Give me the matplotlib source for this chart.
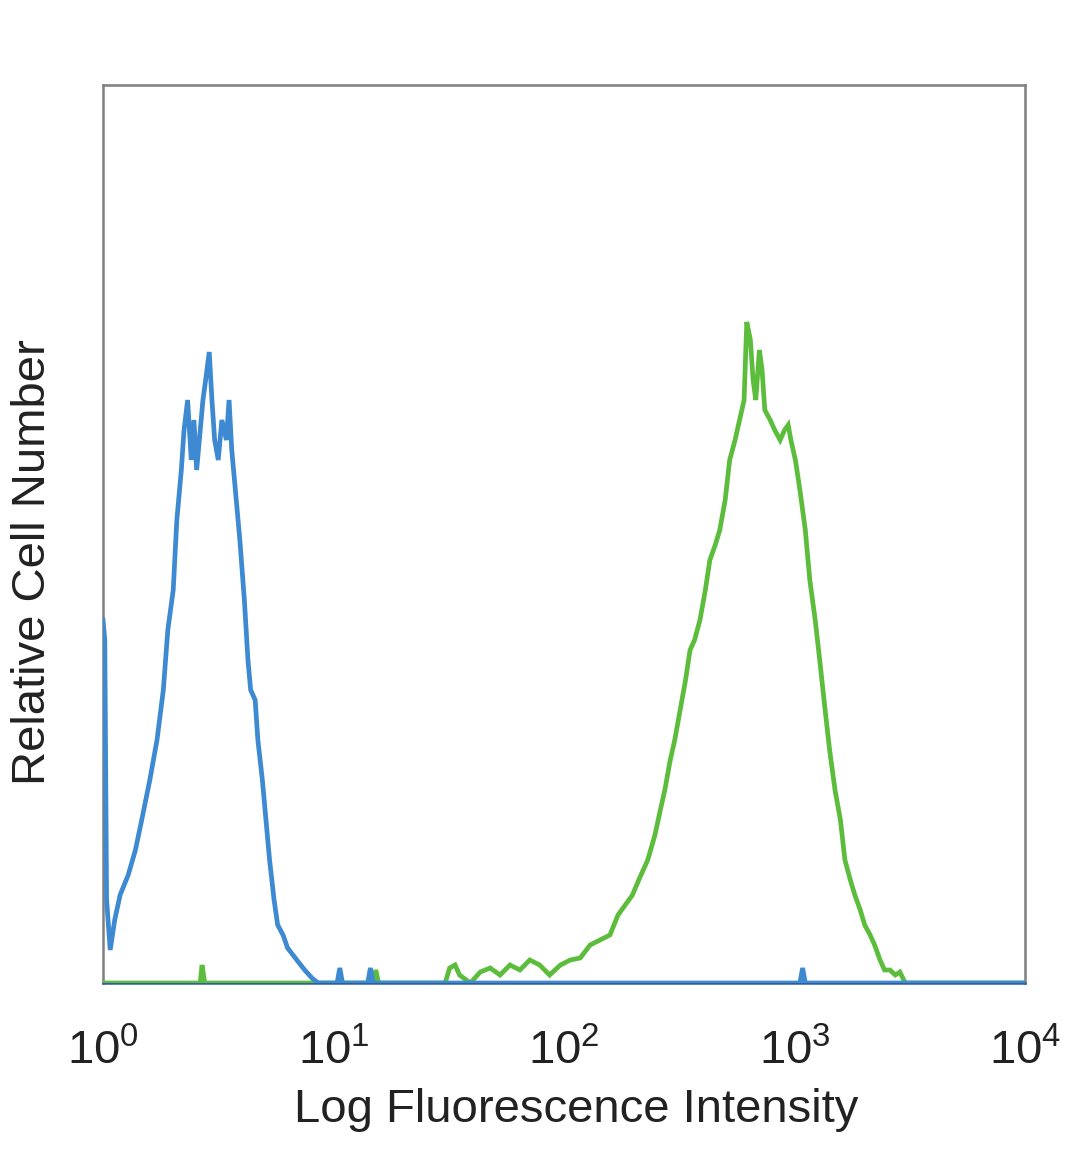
import numpy as np
import matplotlib
matplotlib.use("Agg")
import matplotlib.pyplot as plt
from matplotlib.ticker import FixedLocator, FixedFormatter

# ---- data: channel (0-1024 over 4 decades) and relative cell counts ----
blue_channel = [0, 2, 4, 8, 13, 19, 28, 36, 43, 52, 60, 67, 72, 78, 82, 87, 90, 94,
                98, 101, 104, 108, 111, 114, 118, 121, 124, 128, 132, 137, 140, 143,
                148, 152, 157, 161, 164, 169, 172, 177, 181, 185, 190, 194, 200, 205,
                211, 217, 224, 232, 239, 260, 263, 266, 294, 297, 300, 774, 777, 780, 1023]
blue_count = [363, 343, 83, 33, 63, 88, 108, 133, 163, 203, 243, 293, 353, 393, 463, 513, 553, 583,
              523, 563, 513, 553, 583, 603, 631, 583, 543, 523, 563, 543, 583, 533,
              483, 443, 383, 323, 293, 283, 243, 203, 163, 123, 83, 58, 48, 35,
              28, 21, 13, 5, 0, 0, 15, 0, 0, 15, 0, 0, 15, 0, 0]

green_channel = [0, 108, 110, 113, 300, 303, 306, 380, 385, 391, 396, 408, 419, 430, 441,
                 452, 463, 474, 485, 496, 508, 519, 530, 541, 552, 563, 572, 580, 588,
                 596, 605, 613, 619, 624, 630, 635, 641, 647, 652, 657, 663, 669, 674,
                 680, 685, 691, 696, 702, 707, 712, 715, 719, 722, 725, 729, 732, 735,
                 741, 746, 752, 757, 761, 764, 769, 774, 780, 785, 791, 796, 802, 807,
                 813, 819, 824, 830, 835, 841, 846, 852, 857, 863, 868, 874, 880, 885,
                 891, 1023]
green_count = [0, 0, 18, 0, 0, 13, 0, 0, 15, 18, 8, 0, 11, 15, 8,
               18, 13, 23, 18, 8, 18, 23, 25, 38, 43, 48, 68, 78, 88,
               105, 123, 148, 173, 193, 223, 243, 273, 303, 333, 343, 363, 393, 423,
               438, 453, 483, 523, 543, 563, 583, 661, 643, 603, 583, 633, 613, 573,
               563, 553, 543, 553, 558, 543, 523, 493, 453, 403, 363, 323, 273, 233,
               193, 163, 123, 103, 88, 73, 58, 48, 38, 23, 13, 13, 8, 11,
               0, 0]

tick_values = [1, 10, 100, 1000, 10000]
tick_labels = [r"$\mathdefault{10^{0}}$", r"$\mathdefault{10^{1}}$", r"$\mathdefault{10^{2}}$",
               r"$\mathdefault{10^{3}}$", r"$\mathdefault{10^{4}}$"]

plt.rcParams['font.family'] = ['Liberation Sans', 'DejaVu Sans']
plt.rcParams['mathtext.fontset'] = 'custom'
plt.rcParams['mathtext.rm'] = 'Liberation Sans'
plt.rcParams['mathtext.it'] = 'Liberation Sans:italic'
plt.rcParams['mathtext.bf'] = 'Liberation Sans:bold'

fig = plt.figure(figsize=(10.8, 11.69), dpi=100)
ax = fig.add_axes([103/1080, (1169-983)/1169, 922/1080, 898/1169])

bx = 10 ** (np.array(blue_channel) / 256.0)
gx = 10 ** (np.array(green_channel) / 256.0)

ax.plot(gx, green_count, color='#5cbd3c', lw=3.4, zorder=3, solid_joinstyle='miter')
ax.plot(bx, blue_count, color='#3d8ad2', lw=3.4, zorder=4, solid_joinstyle='miter')

ax.set_xscale('log')
ax.set_xlim(1, 10000)
ax.set_ylim(0, 898)
ax.xaxis.set_major_locator(FixedLocator(tick_values))
ax.xaxis.set_major_formatter(FixedFormatter(tick_labels))
ax.xaxis.set_minor_locator(FixedLocator([]))
ax.set_yticks([])
ax.tick_params(axis='x', length=0, pad=33, labelsize=34, labelcolor='#222222')

for s in ax.spines.values():
    s.set_color('#7f7f7f')
    s.set_linewidth(1.8)
ax.spines['bottom'].set_color('#2d5f9f')

ax.set_xlabel('Log Fluorescence Intensity', fontsize=34, color='#222222')
ax.xaxis.set_label_coords(0.513, -0.117)
ax.set_ylabel('Relative Cell Number', fontsize=34, color='#222222')
ax.yaxis.set_label_coords(-0.052, 0.469)

fig.savefig('out.png', dpi=100)
